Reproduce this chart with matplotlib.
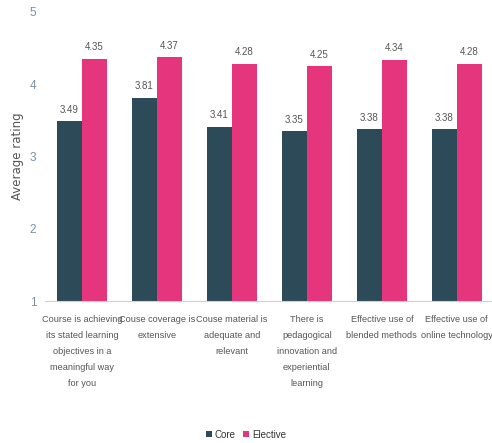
import matplotlib.pyplot as plt
import numpy as np

categories = ['Course is achieving\nits stated learning\nobjectives in a\nmeaningful way\nfor you',
              'Couse coverage is\nextensive',
              'Couse material is\nadequate and\nrelevant',
              'There is\npedagogical\ninnovation and\nexperiential\nlearning',
              'Effective use of\nblended methods',
              'Effective use of\nonline technology']
core = [3.49, 3.81, 3.41, 3.35, 3.38, 3.38]
elective = [4.35, 4.37, 4.28, 4.25, 4.34, 4.28]

plt.rcParams['font.family'] = ['Liberation Sans', 'DejaVu Sans']

core_col = '#2c4a58'
elec_col = '#e5357c'
txt_col = '#555555'

fig = plt.figure(figsize=(4.92, 4.43), dpi=100)
ax = fig.add_axes([0.0905, 0.3205, 0.9095, 0.6525])

x = np.arange(len(categories))
w = 0.335
ax.bar(x - w/2, np.array(core) - 1, w, bottom=1, color=core_col, label='Core')
ax.bar(x + w/2, np.array(elective) - 1, w, bottom=1, color=elec_col, label='Elective')

for i in range(len(x)):
    ax.text(x[i] - w/2, core[i] + 0.09, '%.2f' % core[i], ha='center', va='bottom',
            fontsize=7, color=txt_col)
    ax.text(x[i] + w/2, elective[i] + 0.09, '%.2f' % elective[i], ha='center', va='bottom',
            fontsize=7, color=txt_col)

ax.set_ylim(1, 5)
ax.set_xlim(-0.5, 5.47)
ax.set_yticks([1, 2, 3, 4, 5])
ax.tick_params(axis='y', length=0, labelsize=8.5, labelcolor='#7a8fa8', pad=6)
ax.set_xticks(x)
ax.set_xticklabels(categories, fontsize=6.6, color=txt_col, linespacing=2.0, va='top')
ax.tick_params(axis='x', length=0, pad=10)
for s in ['top', 'right', 'left']:
    ax.spines[s].set_visible(False)
ax.spines['bottom'].set_color('#d0d0d0')
ax.set_ylabel('Average rating', fontsize=8.5, color=txt_col, family='DejaVu Sans')
ax.yaxis.set_label_coords(-0.045, 0.5)

fig.legend(loc='lower center', bbox_to_anchor=(0.5, -0.012), ncol=2, frameon=False,
           fontsize=7, handlelength=0.6, handleheight=0.6, handletextpad=0.3,
           columnspacing=0.8, labelcolor='#333333')

fig.savefig('out.png', dpi=100)
